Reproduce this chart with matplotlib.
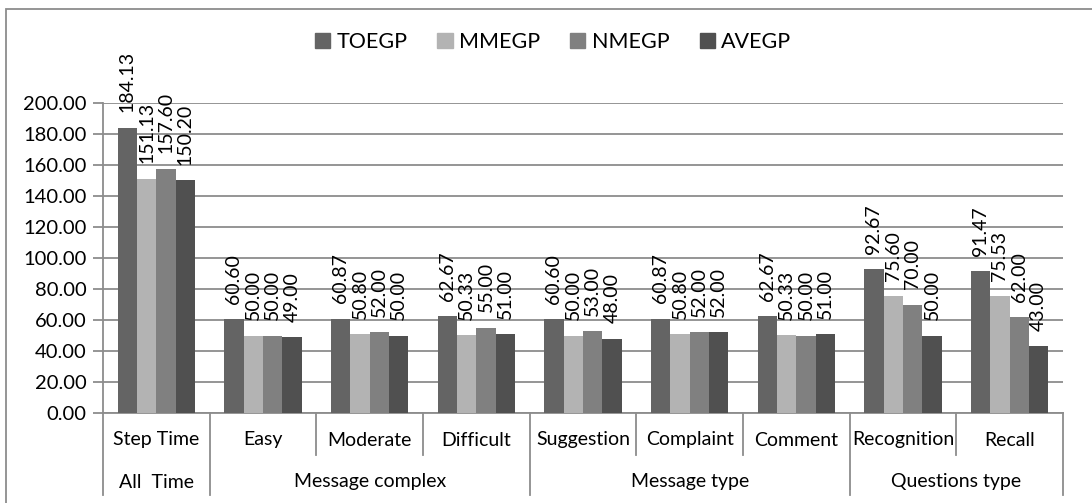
import matplotlib
matplotlib.use("Agg")
import matplotlib.pyplot as plt
from matplotlib.patches import Rectangle, Patch
from matplotlib.transforms import blended_transform_factory
import numpy as np

plt.rcParams['font.family'] = ['Lato', 'DejaVu Sans']

categories = ["Step Time", "Easy", "Moderate", "Difficult", "Suggestion",
              "Complaint", "Comment", "Recognition", "Recall"]
groups = ["All  Time", "Message complex", "Message type", "Questions type"]
group_spans = [(0, 1), (1, 4), (4, 7), (7, 9)]

series_names = ["TOEGP", "MMEGP", "NMEGP", "AVEGP"]
toegp = [184.13, 60.60, 60.87, 62.67, 60.60, 60.87, 62.67, 92.67, 91.47]
mmegp = [151.13, 50.00, 50.80, 50.33, 50.00, 50.80, 50.33, 75.60, 75.53]
nmegp = [157.60, 50.00, 52.00, 55.00, 53.00, 52.00, 50.00, 70.00, 62.00]
avegp = [150.20, 49.00, 50.00, 51.00, 48.00, 52.00, 51.00, 50.00, 43.00]
colors = ["#646464", "#b3b3b3", "#808080", "#505050"]

W, H = 1092, 503
fig = plt.figure(figsize=(W / 100, H / 100), dpi=100)
ax = fig.add_axes([103 / W, 1 - 413 / H, (1063 - 103) / W, (413 - 103) / H])

grid_col = "#8c8c8c"
fs = 14
n = len(categories)
bw = 1 / 5.5  # gap width 150%
x = np.arange(n) + 0.5
for i, (vals, c) in enumerate(zip([toegp, mmegp, nmegp, avegp], colors)):
    xs = x + (i - 1.5) * bw
    ax.bar(xs, vals, width=bw, color=c, zorder=3)
    for xi, v in zip(xs, vals):
        ax.annotate(f"{v:.2f}", (xi, v), xytext=(0, 11), textcoords="offset points",
                    rotation=90, ha="center", va="bottom", fontsize=fs,
                    annotation_clip=False)

ax.set_xlim(0, n)
ax.set_ylim(0, 200)
ax.set_yticks(np.arange(0, 201, 20))
ax.set_yticklabels([f"{v:.2f}" for v in np.arange(0, 201, 20)], fontsize=14.5)
ax.yaxis.grid(True, color=grid_col, linewidth=1.3, zorder=0)
ax.set_xticks([])
for s in ["top", "right"]:
    ax.spines[s].set_visible(False)
for s in ["left", "bottom"]:
    ax.spines[s].set_color(grid_col)
    ax.spines[s].set_linewidth(1.3)
ax.tick_params(axis="y", length=7, color=grid_col, width=1.3, pad=5)

# two-level category axis
tr = blended_transform_factory(ax.transData, fig.transFigure)
y0 = 1 - 413 / H
y_short = 1 - 455 / H
y_long = 1 - 495 / H
group_edges = {a for a, b in group_spans} | {b for a, b in group_spans}
for b in range(n + 1):
    yb = y_long if b in group_edges else y_short
    ax.plot([b, b], [y0, yb], transform=tr, color=grid_col, lw=1.3, clip_on=False)
for xi, lab in zip(x, categories):
    ax.text(xi, 1 - 440 / H, lab, transform=tr, ha="center", va="center", fontsize=fs)
for (a, b), g in zip(group_spans, groups):
    ax.text((a + b) / 2, 1 - 482 / H, g, transform=tr, ha="center", va="center", fontsize=fs)

handles = [Patch(color=c) for c in colors]
fig.legend(handles, series_names, loc="center", bbox_to_anchor=(553 / W, 1 - 42 / H),
           ncol=4, frameon=False, fontsize=15.5, handlelength=0.7, handleheight=0.7,
           handletextpad=0.3, columnspacing=1.4)

fig.patches.append(Rectangle((6 / W, -0.1), 1.2, 1 - 9 / H + 0.1, transform=fig.transFigure,
                             fill=False, edgecolor="#8c8c8c", linewidth=1.3))

fig.savefig("out.png", dpi=100)
